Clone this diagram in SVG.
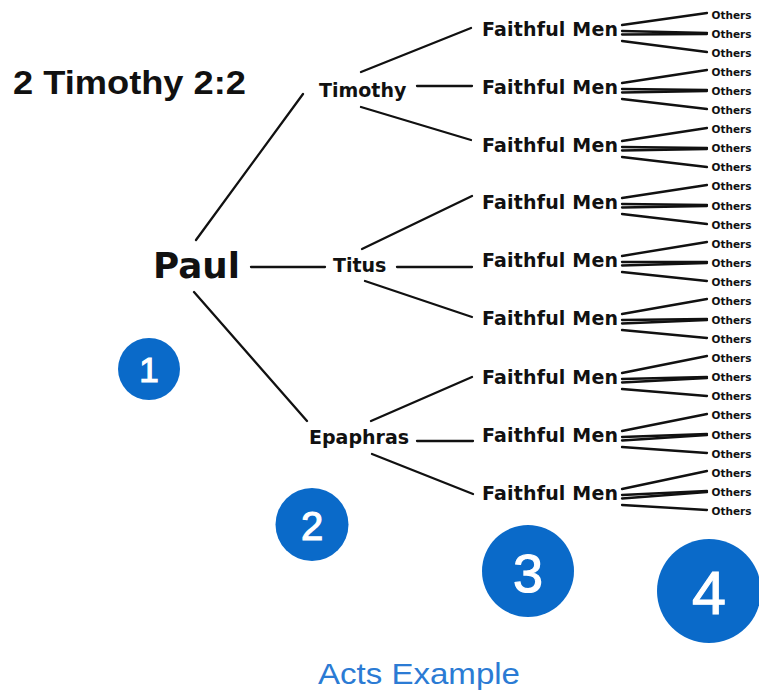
<svg xmlns="http://www.w3.org/2000/svg" width="759" height="692" viewBox="0 0 759 692">
<style>
.t{font-family:"DejaVu Sans",Verdana,sans-serif;font-weight:bold;fill:#111}
.fm{font-size:19px}
.ot{font-size:10.5px}
.ln{stroke:#111;stroke-width:2.3;fill:none;stroke-linecap:round}
.c{fill:#0a6ac9}
.n{font-family:"Liberation Sans",Arial,sans-serif;fill:#fff;stroke:#fff;stroke-width:1.2;text-anchor:middle}
</style>
<rect width="759" height="692" fill="#fff"/>
<g id="title"><text x="13" y="93.5" font-family="Liberation Sans,Arial,sans-serif" font-weight="bold" font-size="33" fill="#111" textLength="233" lengthAdjust="spacingAndGlyphs">2 Timothy 2:2</text></g>
<g id="connectors" class="ln">
<line x1="196" y1="240" x2="303" y2="94"/>
<line x1="251" y1="267" x2="325" y2="267"/>
<line x1="194" y1="292" x2="307" y2="421"/>
<line x1="361" y1="72" x2="471" y2="28"/>
<line x1="417" y1="86" x2="472" y2="86"/>
<line x1="361" y1="107" x2="471" y2="140"/>
<line x1="362" y1="249" x2="472" y2="196"/>
<line x1="397" y1="267" x2="472" y2="267"/>
<line x1="365" y1="281" x2="472" y2="317"/>
<line x1="371" y1="421" x2="472" y2="377"/>
<line x1="417" y1="441" x2="473" y2="441"/>
<line x1="372" y1="454" x2="473" y2="494"/>
<line x1="622" y1="25" x2="707" y2="13"/><line x1="622" y1="31" x2="707" y2="33"/><line x1="622" y1="34.5" x2="707" y2="34"/><line x1="622" y1="41" x2="707" y2="52"/>
<line x1="622" y1="83" x2="707" y2="70"/><line x1="622" y1="89" x2="707" y2="90"/><line x1="622" y1="92.5" x2="707" y2="91"/><line x1="622" y1="99" x2="707" y2="109"/>
<line x1="622" y1="141" x2="707" y2="128"/><line x1="622" y1="147" x2="707" y2="148"/><line x1="622" y1="150.5" x2="707" y2="149"/><line x1="622" y1="157" x2="707" y2="167"/>
<line x1="622" y1="198" x2="707" y2="185"/><line x1="622" y1="204" x2="707" y2="205"/><line x1="622" y1="207.5" x2="707" y2="206"/><line x1="622" y1="214" x2="707" y2="224"/>
<line x1="622" y1="256" x2="707" y2="242"/><line x1="622" y1="262" x2="707" y2="262"/><line x1="622" y1="265.5" x2="707" y2="263"/><line x1="622" y1="272" x2="707" y2="281"/>
<line x1="622" y1="314" x2="707" y2="299"/><line x1="622" y1="320" x2="707" y2="319"/><line x1="622" y1="323.5" x2="707" y2="320"/><line x1="622" y1="330" x2="707" y2="338"/>
<line x1="622" y1="373" x2="707" y2="356"/><line x1="622" y1="379" x2="707" y2="377"/><line x1="622" y1="382.5" x2="707" y2="378"/><line x1="622" y1="389" x2="707" y2="396"/>
<line x1="622" y1="431" x2="707" y2="414"/><line x1="622" y1="437" x2="707" y2="434"/><line x1="622" y1="440.5" x2="707" y2="435"/><line x1="622" y1="447" x2="707" y2="453"/>
<line x1="622" y1="489" x2="707" y2="471"/><line x1="622" y1="495" x2="707" y2="491"/><line x1="622" y1="498.5" x2="707" y2="492"/><line x1="622" y1="505" x2="707" y2="510"/>
</g>
<g id="paul"><text class="t" x="153" y="277.7" font-size="36" textLength="87" lengthAdjust="spacingAndGlyphs">Paul</text></g>
<g id="timothy"><text class="t fm" x="319" y="97.3">Timothy</text></g>
<g id="titus"><text class="t fm" x="333" y="271.7">Titus</text></g>
<g id="epaphras"><text class="t fm" x="309" y="444">Epaphras</text></g>
<g id="faithful-men" class="t fm">
<text x="482" y="36" textLength="136">Faithful Men</text>
<text x="482" y="94" textLength="136">Faithful Men</text>
<text x="482" y="152" textLength="136">Faithful Men</text>
<text x="482" y="209" textLength="136">Faithful Men</text>
<text x="482" y="267" textLength="136">Faithful Men</text>
<text x="482" y="325" textLength="136">Faithful Men</text>
<text x="482" y="384" textLength="136">Faithful Men</text>
<text x="482" y="442" textLength="136">Faithful Men</text>
<text x="482" y="500" textLength="136">Faithful Men</text>
</g>
<g id="others" class="t ot">
<text x="711.5" y="18.7">Others</text><text x="711.5" y="37.8">Others</text><text x="711.5" y="56.9">Others</text>
<text x="711.5" y="75.9">Others</text><text x="711.5" y="95">Others</text><text x="711.5" y="114.1">Others</text>
<text x="711.5" y="133.2">Others</text><text x="711.5" y="152.3">Others</text><text x="711.5" y="171.3">Others</text>
<text x="711.5" y="190.4">Others</text><text x="711.5" y="209.5">Others</text><text x="711.5" y="228.6">Others</text>
<text x="711.5" y="247.7">Others</text><text x="711.5" y="266.7">Others</text><text x="711.5" y="285.8">Others</text>
<text x="711.5" y="304.9">Others</text><text x="711.5" y="324">Others</text><text x="711.5" y="343.1">Others</text>
<text x="711.5" y="362.1">Others</text><text x="711.5" y="381.2">Others</text><text x="711.5" y="400.3">Others</text>
<text x="711.5" y="419.4">Others</text><text x="711.5" y="438.5">Others</text><text x="711.5" y="457.5">Others</text>
<text x="711.5" y="476.6">Others</text><text x="711.5" y="495.7">Others</text><text x="711.5" y="514.8">Others</text>
</g>
<g id="badge-1"><circle class="c" cx="149" cy="369" r="31"/><text class="n" x="149" y="381.5" font-size="35">1</text></g>
<g id="badge-2"><circle class="c" cx="312" cy="524.5" r="36.5"/><text class="n" x="312" y="540" font-size="40">2</text></g>
<g id="badge-3"><circle class="c" cx="528" cy="571" r="46"/><text class="n" x="528" y="592" font-size="54">3</text></g>
<g id="badge-4"><circle class="c" cx="709" cy="591" r="52"/><text class="n" x="709" y="614" font-size="61">4</text></g>
<g id="caption"><text x="318" y="684.3" font-family="Liberation Sans,Arial,sans-serif" font-size="30" fill="#2b7bd4" textLength="202" lengthAdjust="spacingAndGlyphs">Acts Example</text></g>
</svg>
